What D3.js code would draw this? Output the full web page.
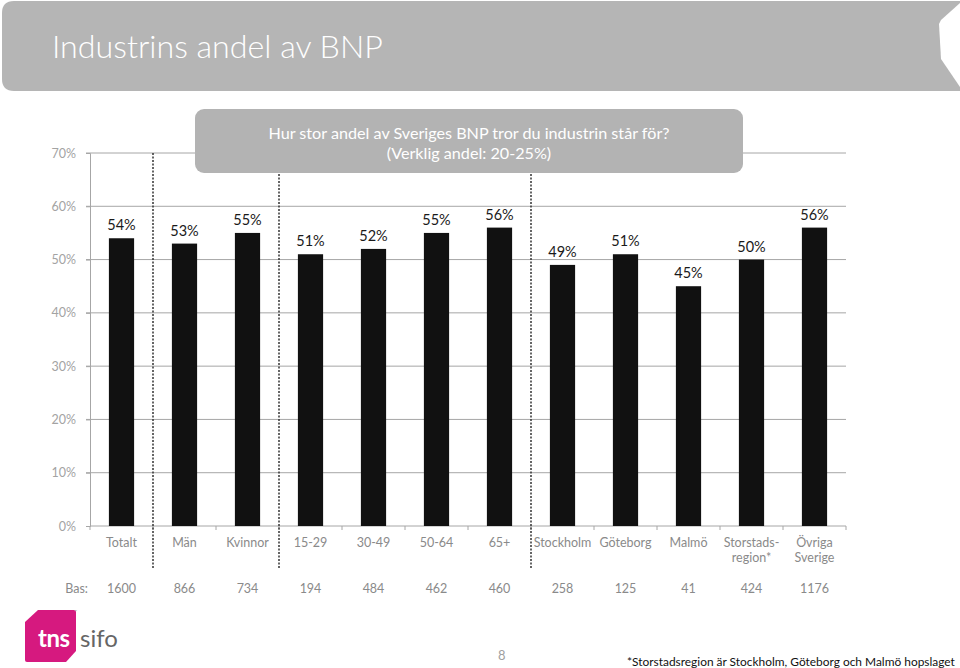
<!DOCTYPE html>
<html><head><meta charset="utf-8">
<script src="https://cdn.jsdelivr.net/npm/d3@7"></script>
<style>
html,body{margin:0;padding:0;background:#fff;}
svg{display:block;font-family:Lato,"Open Sans",sans-serif;}
</style></head>
<body>
<script>
const categories = ["Totalt","Män","Kvinnor","15-29","30-49","50-64","65+","Stockholm","Göteborg","Malmö","Storstads-\nregion*","Övriga\nSverige"];
const values = [54,53,55,51,52,55,56,49,51,45,50,56];
const bases = [1600,866,734,194,484,462,460,258,125,41,424,1176];
const yTicks = [0,10,20,30,40,50,60,70];
const separatorsAfter = ["Totalt","Kvinnor","65+"];
const title = "Industrins andel av BNP";
const question = ["Hur stor andel av Sveriges BNP tror du industrin står för?","(Verklig andel: 20-25%)"];
const footnote = "*Storstadsregion är Stockholm, Göteborg och Malmö hopslaget";

const W = 960, H = 668;
const svg = d3.select("body").append("svg").attr("width", W).attr("height", H);

function fitWidth(t, w){
  const cur = t.node().getComputedTextLength();
  const fs = parseFloat(t.attr("font-size"));
  t.attr("font-size", (fs * w / cur).toFixed(2));
}

// Title banner
svg.append("path")
  .attr("d", "M14,1 L960,1 L960,91 L14,91 Q2,91 2,79 L2,13 Q2,1 14,1 Z")
  .attr("fill", "#b5b5b5");
svg.append("path")
  .attr("d", "M960,3 L941,20 L939,24 L941,59 L960,87 Z")
  .attr("fill", "#fff");
const tt = svg.append("text").attr("x", 52).attr("y", 58)
  .attr("font-size", 31).attr("font-weight", 300).attr("fill", "#fff").text(title);
fitWidth(tt, 331);

// Scales
const x = d3.scaleBand().domain(categories).range([90, 846]).paddingInner(0.6).paddingOuter(0.3);
const y = d3.scaleLinear().domain([0, 70]).range([526, 153]);

// gridlines
svg.append("g").selectAll("line").data(yTicks.filter(d => d > 0)).join("line")
  .attr("x1", 86).attr("x2", 846)
  .attr("y1", d => y(d)).attr("y2", d => y(d))
  .attr("stroke", "#a6a6a6").attr("stroke-width", 1);

// y axis
const yAxis = svg.append("g").attr("transform", "translate(90,0)")
  .call(d3.axisLeft(y).tickValues(yTicks).tickFormat(d => d + "%").tickSize(4).tickPadding(10));
yAxis.select(".domain").attr("stroke", "#a6a6a6");
yAxis.selectAll(".tick line").attr("stroke", "#a6a6a6");
yAxis.selectAll("text").attr("fill", "#a3a3a3").attr("font-size", 12.5).attr("font-family", "Lato");

// x axis
const step = x.step();
const xAxisG = svg.append("g").attr("transform", "translate(0,526)");
xAxisG.append("line").attr("x1", 90).attr("x2", 846).attr("stroke", "#a6a6a6");
xAxisG.selectAll("line.tk").data(d3.range(categories.length + 1)).join("line").attr("class", "tk")
  .attr("x1", i => 90 + i * step).attr("x2", i => 90 + i * step)
  .attr("y1", 0).attr("y2", 4).attr("stroke", "#a6a6a6");

// separators (dashed)
svg.append("g").selectAll("line").data(separatorsAfter).join("line")
  .attr("x1", d => x(d) + x.bandwidth() + step * 0.3).attr("x2", d => x(d) + x.bandwidth() + step * 0.3)
  .attr("y1", y(70)).attr("y2", 568)
  .attr("stroke", "#333").attr("stroke-width", 1.5).attr("stroke-dasharray", "2,1.5");

// bars
svg.append("g").selectAll("rect").data(values).join("rect")
  .attr("x", (d, i) => x(categories[i])).attr("width", x.bandwidth())
  .attr("y", d => y(d)).attr("height", d => y(0) - y(d))
  .attr("fill", "#111");

// value labels
svg.append("g").selectAll("text").data(values).join("text")
  .attr("x", (d, i) => x(categories[i]) + x.bandwidth() / 2)
  .attr("y", d => y(d) - 8)
  .attr("text-anchor", "middle").attr("font-size", 14.5).attr("fill", "#1a1a1a")
  .text(d => d + "%");

// category labels
svg.append("g").selectAll("text").data(categories).join("text")
  .attr("x", d => x(d) + x.bandwidth() / 2).attr("y", 547)
  .attr("text-anchor", "middle").attr("font-size", 12.5).attr("fill", "#8a8a8a")
  .each(function(d){
    const lines = d.split("\n");
    d3.select(this).selectAll("tspan").data(lines).join("tspan")
      .attr("x", x(d) + x.bandwidth() / 2).attr("dy", (l, i) => i ? 15 : 0).text(l => l);
  });

// Bas row
svg.append("text").attr("x", 88).attr("y", 593).attr("text-anchor", "end")
  .attr("font-size", 12.5).attr("fill", "#8a8a8a").text("Bas:");
svg.append("g").selectAll("text").data(bases).join("text")
  .attr("x", (d, i) => x(categories[i]) + x.bandwidth() / 2).attr("y", 593)
  .attr("text-anchor", "middle").attr("font-size", 12.5).attr("fill", "#8a8a8a")
  .text(d => d);

// question box
svg.append("rect").attr("x", 195).attr("y", 109).attr("width", 548).attr("height", 64)
  .attr("rx", 9).attr("fill", "#b3b3b3");
const q1 = svg.append("text").attr("x", 469).attr("y", 139).attr("text-anchor", "middle")
  .attr("font-size", 16).attr("fill", "#fff").text(question[0]);
fitWidth(q1, 401);
svg.append("text").attr("x", 469).attr("y", 159).attr("text-anchor", "middle")
  .attr("font-size", q1.attr("font-size")).attr("fill", "#fff").text(question[1]);

// logo
const logo = svg.append("g");
logo.append("path")
  .attr("d", "M38,610 L74,610 Q76,610 76,612 L76,651 L66,662 L27,662 Q25,662 25,660 L25,622 Z")
  .attr("fill", "#d6197f");
logo.append("text").attr("x", 38).attr("y", 647).attr("font-size", 24).attr("font-weight", 700)
  .attr("fill", "#fff").attr("letter-spacing", -0.5).text("tns");
logo.append("text").attr("x", 80).attr("y", 647).attr("font-size", 24)
  .attr("fill", "#666").text("sifo");
logo.append("text").attr("x", 74).attr("y", 613).attr("font-size", 4).attr("fill", "#999").text("™");

// page number
svg.append("text").attr("x", 498).attr("y", 660).attr("font-size", 13).attr("fill", "#a0a0a0").text("8");

// footnote
const fn = svg.append("text").attr("x", 627).attr("y", 666).attr("font-size", 13).attr("fill", "#111").text(footnote);
fitWidth(fn, 328);
</script>
</body></html>
